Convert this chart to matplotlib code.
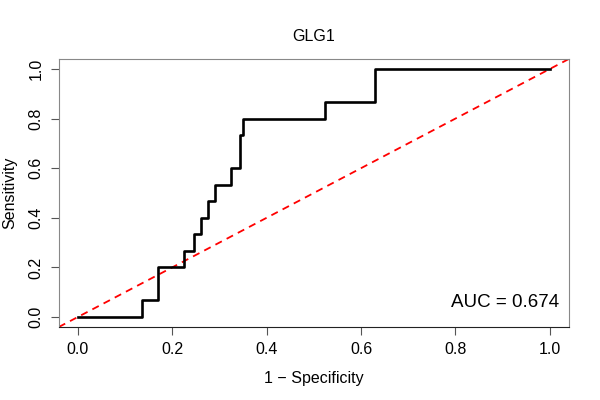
import matplotlib
matplotlib.use("Agg")
import matplotlib.pyplot as plt

fpr = [0.0, 0.137, 0.170, 0.226, 0.247, 0.261, 0.275, 0.290, 0.324, 0.344, 0.350, 0.523, 0.630, 1.0]
tpr = [0.0, 0.067, 0.200, 0.267, 0.333, 0.400, 0.467, 0.533, 0.600, 0.733, 0.800, 0.867, 1.000, 1.0]
auc = 0.674
gene = "GLG1"

ticks = [0.0, 0.2, 0.4, 0.6, 0.8, 1.0]

plt.rcParams['font.family'] = ['Liberation Sans', 'DejaVu Sans']

fig = plt.figure(figsize=(6, 4), dpi=100)
ax = fig.add_axes([0.098, 0.1825, 0.85, 0.67])

# courbe ROC en escalier + diagonale de reference
ax.plot(fpr, tpr, drawstyle='steps-post', color='black', linewidth=1.9, zorder=3)
ax.axline((0, 0), (1, 1), color='red', linestyle=(0, (4, 3)), linewidth=1.3, zorder=2)

ax.set_xlim(-0.04, 1.04)
ax.set_ylim(-0.04, 1.04)
ax.set_xticks(ticks)
ax.set_yticks(ticks)
ax.set_xticklabels(["%.1f" % t for t in ticks], fontsize=11.5)
ax.set_yticklabels(["%.1f" % t for t in ticks], fontsize=11.5, rotation=90, va='center')
ax.tick_params(direction='out', length=6, width=0.8, color='#555555', pad=5)

for s in ['top', 'right', 'left']:
    ax.spines[s].set_color('#888888')
ax.spines['bottom'].set_color('#222222')

ax.set_xlabel("1 \u2212 Specificity", fontsize=11.5, labelpad=10)
ax.set_ylabel("Sensitivity", fontsize=11.5, labelpad=8)
ax.set_title(gene, fontsize=11.5, pad=13)

ax.text(1.02, 0.06, "AUC = %.3f" % auc, ha='right', va='center', fontsize=13.5)

fig.savefig("out.png", dpi=100)
